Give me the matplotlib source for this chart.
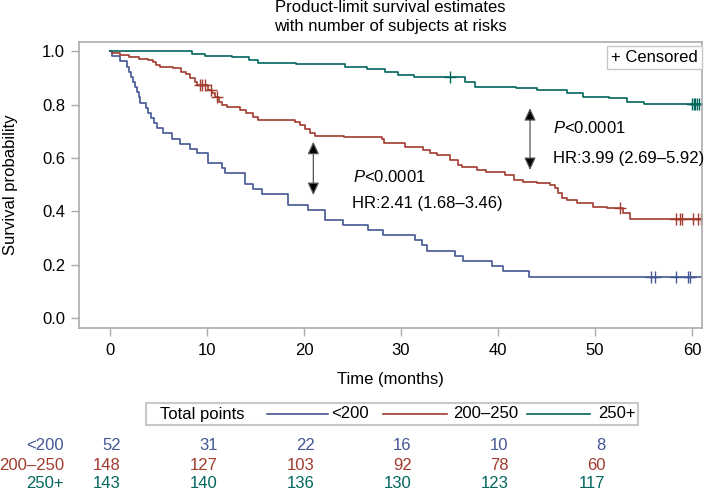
import numpy as np
import matplotlib
matplotlib.use('Agg')
import matplotlib.pyplot as plt
import matplotlib.transforms as mtransforms
from matplotlib.lines import Line2D
from matplotlib.patches import Rectangle

FS = 12
plt.rcParams['font.family'] = ['Liberation Sans', 'DejaVu Sans']
plt.rcParams['font.size'] = FS
plt.rcParams['mathtext.fontset'] = 'custom'
plt.rcParams['mathtext.rm'] = 'Liberation Sans'
plt.rcParams['mathtext.it'] = 'Liberation Sans:italic'

# Grupos y colores (estilo SAS)
GROUPS = ['<200', '200–250', '250+']
COLORS = ['#445694', '#A23A2E', '#01665E']
END_TIME = 61.0

# Curva <200 (tiempos de evento, supervivencia tras el evento)
T_LOW = [0, 0.18, 1.03, 1.72, 1.95, 2.16, 2.37, 2.58, 2.78, 2.94, 3.09, 3.68, 3.89,
         4.23, 4.54, 4.81, 5.46, 6.36, 7.22, 8.25, 8.94, 10.13, 11.52, 11.86, 13.92,
         14.77, 15.64, 18.38, 20.44, 22.16, 24.02, 26.6, 28.14, 31.44, 32.13, 32.65,
         35.57, 36.39, 39.35, 40.48, 43.23]
S_LOW = [1.0, 0.981, 0.962, 0.942, 0.923, 0.904, 0.885, 0.865, 0.846, 0.827, 0.808,
         0.788, 0.769, 0.750, 0.731, 0.712, 0.692, 0.673, 0.654, 0.635, 0.617, 0.580,
         0.561, 0.542, 0.504, 0.484, 0.465, 0.424, 0.405, 0.367, 0.349, 0.330, 0.311,
         0.292, 0.272, 0.252, 0.233, 0.213, 0.194, 0.175, 0.155]
CENS_LOW = [55.8, 56.2, 58.4, 59.6, 59.8]

# Curva 200-250
T_MID = [0, 0.18, 1.0, 2.0, 3.0, 3.9, 4.4, 4.75, 5.15, 6.5, 7.3, 7.8, 8.25, 8.8, 9.0,
         10.1, 10.5, 10.85, 11.2, 11.5, 12.1, 13.4, 14.0, 14.75, 15.25, 19.1, 19.6,
         20.1, 20.6, 21.1, 24.1, 28.0, 28.2, 30.4, 32.3, 33.0, 33.7, 35.05, 35.9,
         36.25, 37.8, 38.8, 40.7, 41.6, 42.6, 44.0, 45.4, 45.9, 46.2, 46.6, 47.1,
         48.1, 49.8, 51.2, 52.9, 53.6]
S_MID = [1.0, 0.993, 0.986, 0.980, 0.973, 0.967, 0.961, 0.949, 0.943, 0.936, 0.924,
         0.914, 0.899, 0.886, 0.874, 0.855, 0.843, 0.830, 0.811, 0.799, 0.792, 0.780,
         0.767, 0.755, 0.742, 0.736, 0.724, 0.708, 0.692, 0.684, 0.678, 0.671, 0.657,
         0.643, 0.630, 0.620, 0.611, 0.592, 0.574, 0.568, 0.555, 0.549, 0.536, 0.517,
         0.511, 0.505, 0.499, 0.486, 0.468, 0.449, 0.442, 0.430, 0.417, 0.411, 0.393,
         0.371]
CENS_MID = [9.3, 9.5, 9.8, 10.45, 11.0, 52.6, 58.4, 58.8, 59.0, 60.1, 60.6, 60.9]

# Curva 250+
T_HIGH = [0, 8.4, 9.8, 12.6, 14.3, 15.3, 19.2, 24.2, 26.5, 28.35, 29.7, 31.3, 36.6,
          37.6, 41.9, 44.0, 47.1, 48.8, 51.4, 53.3, 55.0]
S_HIGH = [1.0, 0.991, 0.984, 0.977, 0.967, 0.958, 0.952, 0.943, 0.932, 0.921, 0.911,
          0.903, 0.886, 0.868, 0.862, 0.855, 0.843, 0.830, 0.824, 0.811, 0.802]
CENS_HIGH = [35.05, 59.97, 60.2, 60.35, 60.5, 60.7]

# Numero de sujetos en riesgo
RISK_TIMES = [0, 10, 20, 30, 40, 50]
RISK_LOW = [52, 31, 22, 16, 10, 8]
RISK_MID = [148, 127, 103, 92, 78, 60]
RISK_HIGH = [143, 140, 136, 130, 123, 117]


def surv_at(times, surv, t):
    idx = np.searchsorted(times, t, side='right') - 1
    return np.asarray(surv)[idx]


W, H = 708, 491
fig = plt.figure(figsize=(W / 100, H / 100), dpi=100)
ax = fig.add_axes([79 / W, 1 - 328 / H, (701.7 - 79) / W, (328 - 42) / H])

curves = [(T_LOW, S_LOW, CENS_LOW), (T_MID, S_MID, CENS_MID), (T_HIGH, S_HIGH, CENS_HIGH)]
for (t, s, c), color in zip(curves, COLORS):
    tt = list(t) + [END_TIME]
    ss = list(s) + [s[-1]]
    ax.step(tt, ss, where='post', color=color, lw=1.2)
    ax.plot(c, surv_at(t, s, c), ls='none', marker='+', ms=8, mew=1.0, color=color)

ax.set_xlim(-3.2, 61.0)
ax.set_ylim(-0.0375, 1.035)
ax.set_xticks(RISK_TIMES + [60])
ax.set_yticks([0, 0.2, 0.4, 0.6, 0.8, 1.0])
ax.set_yticklabels(['0.0', '0.2', '0.4', '0.6', '0.8', '1.0'])
for sp in ax.spines.values():
    sp.set_color('#ababab')
    sp.set_linewidth(1.2)
ax.tick_params(direction='out', length=6, width=1.0, color='#ababab', labelsize=FS)
ax.tick_params(axis='x', pad=5)
ax.tick_params(axis='y', pad=4)
ax.set_xlabel('Time (months)', fontsize=FS, labelpad=10)
ax.set_ylabel('Survival probability', fontsize=FS, labelpad=17)

# Flechas y textos
arrow = dict(arrowstyle='<|-|>,head_length=0.75,head_width=0.35', color='#555555',
             fc='black', lw=0.9, mutation_scale=10, shrinkA=0, shrinkB=0)
ax.annotate('', xy=(20.96, 0.661), xytext=(20.96, 0.461), arrowprops=arrow)
ax.annotate('', xy=(43.3, 0.787), xytext=(43.3, 0.555), arrowprops=arrow)
ax.text(25.05, 0.53, r'$\it{P}$<0.0001', va='center', fontsize=FS)
ax.text(24.9, 0.43, 'HR:2.41 (1.68–3.46)', va='center', fontsize=FS)
ax.text(45.7, 0.711, r'$\it{P}$<0.0001', va='center', fontsize=FS)
ax.text(45.7, 0.599, 'HR:3.99 (2.69–5.92)', va='center', fontsize=FS)

ax.text(0.924, 0.945, '+ Censored', transform=ax.transAxes, ha='center', va='center',
        fontsize=FS, bbox=dict(boxstyle='square,pad=0.25', fc='white', ec='#c8c8c8'))

fig.text(390 / W, 1 - 8 / H, 'Product-limit survival estimates', ha='center', va='center', fontsize=FS)
fig.text(390 / W, 1 - 27 / H, 'with number of subjects at risks', ha='center', va='center', fontsize=FS)

# Leyenda inferior
ly = 1 - 414 / H
fig.add_artist(Rectangle((145.7 / W, 1 - 425 / H), (638.3 - 145.7) / W, 22.3 / H,
                         transform=fig.transFigure, fc='white', ec='#c8c8c8', lw=1.5))
fig.text(160 / W, ly, 'Total points', va='center', fontsize=FS)
leg_pos = [(266.7, 328, 331.5), (383.3, 446.7, 453.3), (526.7, 590, 598.3)]
for (x0, x1, xt), color, label in zip(leg_pos, COLORS, GROUPS):
    fig.add_artist(Line2D([x0 / W, x1 / W], [ly, ly], transform=fig.transFigure, color=color, lw=1.2))
    fig.text(xt / W, ly, label, va='center', fontsize=FS)

# Tabla de sujetos en riesgo
trans = mtransforms.blended_transform_factory(ax.transData, fig.transFigure)
row_y = [446, 466, 484]
for counts, color, label, yp in zip([RISK_LOW, RISK_MID, RISK_HIGH], COLORS, GROUPS, row_y):
    yf = 1 - yp / H
    fig.text(64 / W, yf, label, ha='right', va='center', color=color, fontsize=FS)
    for t, n in zip(RISK_TIMES, counts):
        ax.text(t + 1.1, yf, str(n), transform=trans, ha='right', va='center',
                color=color, fontsize=FS, clip_on=False)

fig.savefig('out.png', dpi=100)
